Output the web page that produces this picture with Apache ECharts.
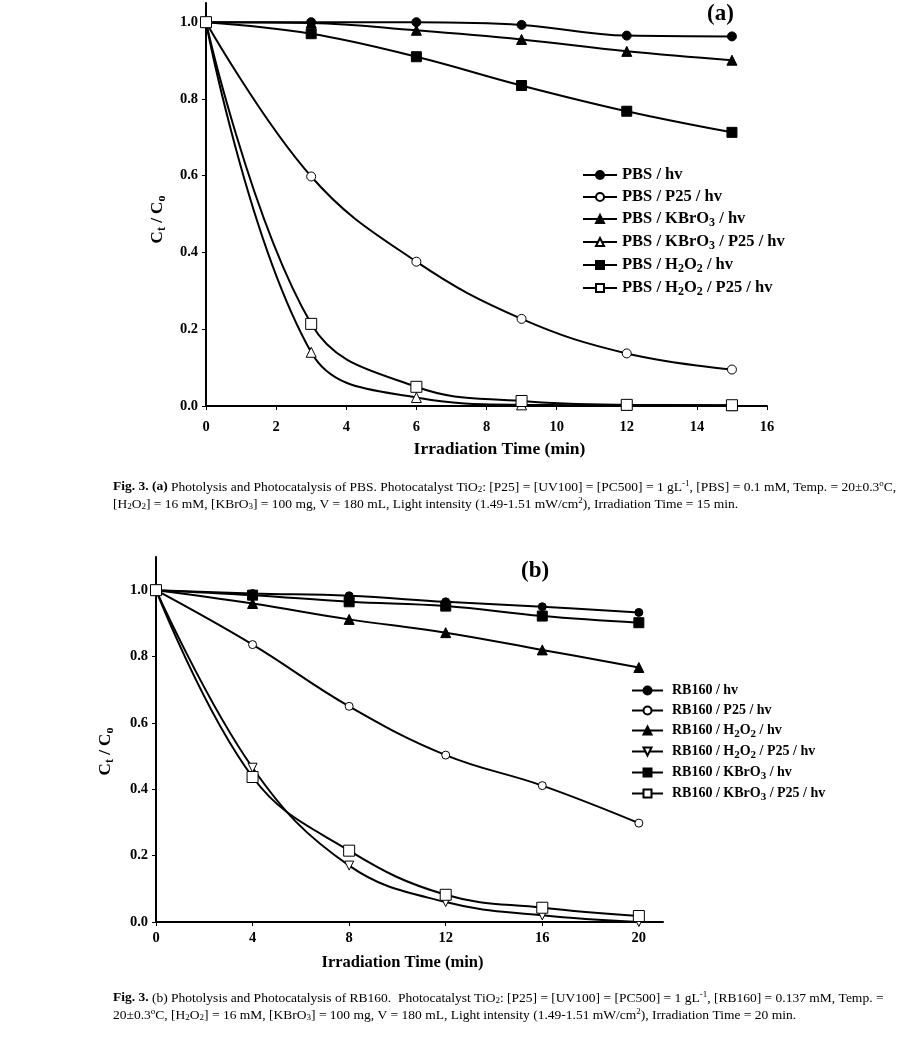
<!DOCTYPE html>
<html>
<head>
<meta charset="utf-8">
<script src="https://cdn.jsdelivr.net/npm/echarts@6/dist/echarts.min.js"></script>
<style>
html,body{margin:0;padding:0;background:#fff;}
#c{width:915px;height:1042px;}
</style>
</head>
<body>
<div id="c"></div>
<script>
// ---------- DATA ----------
const timesA = [0, 3, 6, 9, 12, 15];
const namesA = ['PBS / hv', 'PBS / P25 / hv', 'PBS / KBrO3 / hv', 'PBS / KBrO3 / P25 / hv', 'PBS / H2O2 / hv', 'PBS / H2O2 / P25 / hv'];
const legendTextA = ['PBS / hv', 'PBS / P25 / hv', 'PBS / KBrO{s|3} / hv', 'PBS / KBrO{s|3} / P25 / hv', 'PBS / H{s|2}O{s|2} / hv', 'PBS / H{s|2}O{s|2} / P25 / hv'];
const pbsHv        = [1.0, 1.0, 1.0, 0.993, 0.965, 0.963];
const pbsP25       = [1.0, 0.598, 0.376, 0.227, 0.137, 0.095];
const pbsKBrO3     = [1.0, 0.998, 0.979, 0.955, 0.924, 0.901];
const pbsKBrO3P25  = [1.0, 0.140, 0.022, 0.003, 0.002, 0.001];
const pbsH2O2      = [1.0, 0.970, 0.910, 0.835, 0.768, 0.713];
const pbsH2O2P25   = [1.0, 0.214, 0.050, 0.013, 0.003, 0.002];
const xTicksA = [0, 2, 4, 6, 8, 10, 12, 14, 16];
const yTicksA = [0, 0.2, 0.4, 0.6, 0.8, 1.0];

const timesB = [0, 4, 8, 12, 16, 20];
const namesB = ['RB160 / hv', 'RB160 / P25 / hv', 'RB160 / H2O2 / hv', 'RB160 / H2O2 / P25 / hv', 'RB160 / KBrO3 / hv', 'RB160 / KBrO3 / P25 / hv'];
const legendTextB = ['RB160 / hv', 'RB160 / P25 / hv', 'RB160 / H{s|2}O{s|2} / hv', 'RB160 / H{s|2}O{s|2} / P25 / hv', 'RB160 / KBrO{s|3} / hv', 'RB160 / KBrO{s|3} / P25 / hv'];
const rbHv         = [1.0, 0.990, 0.983, 0.965, 0.950, 0.933];
const rbP25        = [1.0, 0.836, 0.650, 0.503, 0.411, 0.298];
const rbH2O2       = [1.0, 0.960, 0.912, 0.872, 0.820, 0.767];
const rbH2O2P25    = [1.0, 0.465, 0.170, 0.060, 0.020, 0.000];
const rbKBrO3      = [1.0, 0.985, 0.965, 0.952, 0.922, 0.902];
const rbKBrO3P25   = [1.0, 0.437, 0.215, 0.082, 0.043, 0.018];
const xTicksB = [0, 4, 8, 12, 16, 20];
const yTicksB = [0, 0.2, 0.4, 0.6, 0.8, 1.0];

// ---------- STYLE ----------
const FONT = 'Liberation Serif';
const downTri = 'path://M0,0 L10,0 L5,10 Z';
const markersA = [
  {symbol: 'circle', size: 9, fill: '#000'},
  {symbol: 'circle', size: 9, fill: '#fff'},
  {symbol: 'triangle', size: 10, fill: '#000'},
  {symbol: 'triangle', size: 10, fill: '#fff'},
  {symbol: 'rect', size: 10, fill: '#000'},
  {symbol: 'rect', size: 11, fill: '#fff'}
];
const markersB = [
  {symbol: 'circle', size: 8, fill: '#000'},
  {symbol: 'circle', size: 8, fill: '#fff'},
  {symbol: 'triangle', size: 10, fill: '#000'},
  {symbol: downTri, size: 9, fill: '#fff'},
  {symbol: 'rect', size: 10, fill: '#000'},
  {symbol: 'rect', size: 11, fill: '#fff'}
];

function mkSeries(names, times, vals, markers, idx) {
  return vals.map((v, i) => ({
    name: names[i],
    type: 'line',
    xAxisIndex: idx,
    yAxisIndex: idx,
    smooth: 0.4,
    data: times.map((t, k) => [t, v[k]]),
    symbol: markers[i].symbol,
    symbolSize: markers[i].size,
    showAllSymbol: true,
    lineStyle: {color: '#000', width: 2},
    itemStyle: {color: markers[i].fill, borderColor: '#000', borderWidth: 1, opacity: 1},
    emphasis: {disabled: true},
    animation: false,
    z: 3
  }));
}

const labelStyle = {fontFamily: FONT, fontWeight: 'bold', fontSize: 14.5, color: '#000'};
function subRich(fs) {
  return {s: {fontFamily: FONT, fontWeight: 'bold', fontSize: fs, color: '#000', padding: [8, 0, 0, 0]}};
}

const yNameText = '{b|C}{s|t}{b| / C}{s|o}';
function yNameStyle(shift) {
  return {
    fontFamily: FONT, fontWeight: 'bold', fontSize: 17, color: '#000',
    padding: [0, shift, 0, 0],
    rich: {
      b: {fontFamily: FONT, fontWeight: 'bold', fontSize: 17, color: '#000'},
      s: {fontFamily: FONT, fontWeight: 'bold', fontSize: 12, color: '#000', padding: [9, 0, 0, 0]}
    }
  };
}

const axisCommon = {
  axisLine: {lineStyle: {color: '#000', width: 2}},
  axisTick: {lineStyle: {color: '#000', width: 1}, length: 4},
  splitLine: {show: false}
};

function capRich(fs) {
  const base = {fontFamily: FONT, fontSize: fs, color: '#000', lineHeight: 17};
  return {
    n: Object.assign({}, base),
    b: Object.assign({}, base, {fontWeight: 'bold'}),
    sub: Object.assign({}, base, {fontSize: 9, padding: [6, 0, 0, 0]}),
    sup: Object.assign({}, base, {fontSize: 9, padding: [0, 0, 7, 0]})
  };
}

const capA = '{b|Fig. 3.} {b|(a)}{n| Photolysis and Photocatalysis of PBS. Photocatalyst TiO}{sub|2}{n|: [P25] = [UV100] = [PC500] = 1 gL}{sup|-1}{n|, [PBS] = 0.1 mM, Temp. = 20±0.3}{sup|o}{n|C,}\n' +
  '{n|[H}{sub|2}{n|O}{sub|2}{n|] = 16 mM, [KBrO}{sub|3}{n|] = 100 mg, V = 180 mL, Light intensity (1.49-1.51 mW/cm}{sup|2}{n|), Irradiation Time = 15 min.}';
const capB = '{b|Fig. 3.}{n| (b) Photolysis and Photocatalysis of RB160.  Photocatalyst TiO}{sub|2}{n|: [P25] = [UV100] = [PC500] = 1 gL}{sup|-1}{n|, [RB160] = 0.137 mM, Temp. =}\n' +
  '{n|20±0.3}{sup|o}{n|C, [H}{sub|2}{n|O}{sub|2}{n|] = 16 mM, [KBrO}{sub|3}{n|] = 100 mg, V = 180 mL, Light intensity (1.49-1.51 mW/cm}{sup|2}{n|), Irradiation Time = 20 min.}';

const chart = echarts.init(document.getElementById('c'), null, {renderer: 'canvas'});
chart.setOption({
  backgroundColor: '#fff',
  animation: false,
  grid: [
    {left: 206, right: 148, top: 3, bottom: 636},
    {left: 156, right: 252, top: 557, bottom: 120}
  ],
  xAxis: [
    Object.assign({}, axisCommon, {
      type: 'value', gridIndex: 0, min: 0, max: 16, interval: 2,
      axisTick: Object.assign({}, axisCommon.axisTick, {customValues: xTicksA}),
      axisLabel: Object.assign({}, labelStyle, {margin: 14, customValues: xTicksA}),
      name: 'Irradiation Time (min)', nameLocation: 'middle', nameGap: 34,
      nameTextStyle: {fontFamily: FONT, fontWeight: 'bold', fontSize: 17.5, color: '#000', padding: [0, 0, 0, 26]}
    }),
    Object.assign({}, axisCommon, {
      type: 'value', gridIndex: 1, min: 0, max: 21, interval: 4,
      axisTick: Object.assign({}, axisCommon.axisTick, {customValues: xTicksB}),
      axisLabel: Object.assign({}, labelStyle, {margin: 9, customValues: xTicksB}),
      name: 'Irradiation Time (min)', nameLocation: 'middle', nameGap: 32,
      nameTextStyle: {fontFamily: FONT, fontWeight: 'bold', fontSize: 16.5, color: '#000', padding: [0, 14, 0, 0]}
    })
  ],
  yAxis: [
    Object.assign({}, axisCommon, {
      type: 'value', gridIndex: 0, min: 0, max: 1.05, interval: 0.2,
      axisTick: Object.assign({}, axisCommon.axisTick, {customValues: yTicksA}),
      axisLabel: Object.assign({}, labelStyle, {margin: 8, customValues: yTicksA, formatter: v => v.toFixed(1)}),
      name: yNameText, nameLocation: 'middle', nameGap: 38, nameTextStyle: yNameStyle(30)
    }),
    Object.assign({}, axisCommon, {
      type: 'value', gridIndex: 1, min: 0, max: 1.1, interval: 0.2,
      axisTick: Object.assign({}, axisCommon.axisTick, {customValues: yTicksB}),
      axisLabel: Object.assign({}, labelStyle, {margin: 8, customValues: yTicksB, formatter: v => v.toFixed(1)}),
      name: yNameText, nameLocation: 'middle', nameGap: 40, nameTextStyle: yNameStyle(24)
    })
  ],
  legend: [
    {
      data: namesA, orient: 'vertical', left: 577, top: 161,
      itemWidth: 34, itemHeight: 10, itemGap: 4,
      formatter: n => legendTextA[namesA.indexOf(n)],
      textStyle: Object.assign({}, labelStyle, {fontSize: 16.5, lineHeight: 18, rich: subRich(12)}),
      selectedMode: false
    },
    {
      data: namesB, orient: 'vertical', left: 626, top: 677,
      itemWidth: 31, itemHeight: 10, itemGap: 3,
      formatter: n => legendTextB[namesB.indexOf(n)],
      textStyle: Object.assign({}, labelStyle, {fontSize: 14, lineHeight: 17, padding: [0, 0, 0, 4], rich: subRich(11)}),
      selectedMode: false
    }
  ],
  graphic: [
    {type: 'text', left: 707, top: 3, style: {text: '(a)', fontFamily: FONT, fontWeight: 'bold', fontSize: 23, fill: '#000'}},
    {type: 'text', left: 521, top: 560, style: {text: '(b)', fontFamily: FONT, fontWeight: 'bold', fontSize: 23, fill: '#000'}},
    {type: 'text', left: 113, top: 479, style: {text: capA, rich: capRich(13.5), fill: '#000'}},
    {type: 'text', left: 113, top: 990, style: {text: capB, rich: capRich(13.5), fill: '#000'}}
  ],
  series: [].concat(
    mkSeries(namesA, timesA, [pbsHv, pbsP25, pbsKBrO3, pbsKBrO3P25, pbsH2O2, pbsH2O2P25], markersA, 0),
    mkSeries(namesB, timesB, [rbHv, rbP25, rbH2O2, rbH2O2P25, rbKBrO3, rbKBrO3P25], markersB, 1)
  )
});
</script>
</body>
</html>
